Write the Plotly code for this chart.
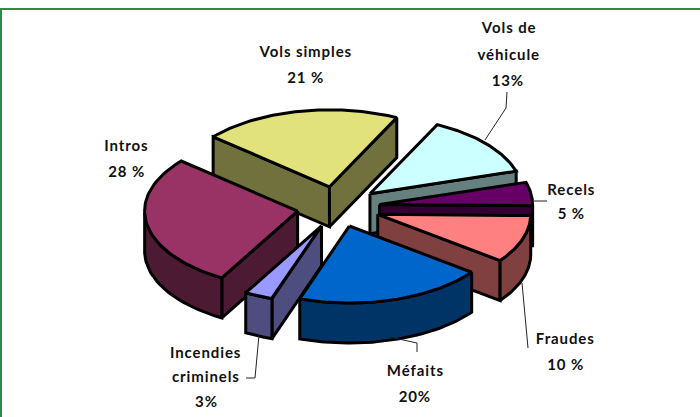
import math
import plotly.graph_objects as go

# ---- data (clockwise from the left edge of "Vols simples") ----
categories = ["Vols simples", "Vols de véhicule", "Recels", "Fraudes",
              "Méfaits", "Incendies criminels", "Intros"]
percent = [21, 13, 5, 10, 20, 3, 28]
pct_text = ["21 %", "13%", "5 %", "10 %", "20%", "3%", "28 %"]
label_lines = [["Vols simples"], ["Vols de", "véhicule"], ["Recels"], ["Fraudes"],
               ["Méfaits"], ["Incendies", "criminels"], ["Intros"]]

# ---- style / layout ----
top_colors = ["#E1E27B", "#CCFFFF", "#660066", "#FF8080", "#0066CC", "#9999FF", "#993366"]
side_colors = ["#71713D", "#668080", "#330033", "#804040", "#003366", "#4D4D80", "#4D1A33"]
pull = [42, 42, 42, 42, 38.5, 40, 41]
CX, CY = 338, 207.5
RX, RY = 153, 77
DEPTH = 40
START = -49.5
draw_order = [0, 1, 6, 2, 3, 5, 4]
label_x = [305, 508, 571, 565, 415, 206, 126]
label_y = [[51, 77], [27, 54, 80], [189, 213], [338, 364], [370, 396], [352, 376, 401], [145, 171]]
leaders = [
    ([507, 506, 485], [92, 108, 140]),
    ([534, 547], [201, 201]),
    ([522, 528], [283, 348]),
    ([390, 417, 417], [337, 343, 352]),
    ([259, 255, 246], [335, 378, 378]),
]
FRAME = "#2E8B46"
FONT = dict(family="Lato, Noto Sans, sans-serif", size=15, weight="bold", color="#111111")

fig = go.Figure()


def poly(xs, ys, color):
    fig.add_trace(go.Scatter(x=xs, y=ys, mode="lines", fill="toself", fillcolor=color,
                             line=dict(color="black", width=3, shape="linear"),
                             hoverinfo="skip", showlegend=False))


def pt(ax, ay, deg, dz=0):
    r = math.radians(deg)
    return ax + RX * math.sin(r), ay - RY * math.cos(r) + dz


total = sum(percent)
angles = [START]
for p in percent:
    angles.append(angles[-1] + 360 * p / total)

for i in draw_order:
    t1, t2 = angles[i], angles[i + 1]
    mid = math.radians((t1 + t2) / 2)
    ax = CX + pull[i] * math.sin(mid)
    ay = CY - pull[i] * math.cos(mid) * RY / RX
    arc = [t1 + (t2 - t1) * k / 60 for k in range(61)]

    # radial faces turned toward the viewer
    for t, visible in ((t1, math.sin(math.radians(t1)) < 0), (t2, math.sin(math.radians(t2)) > 0)):
        if visible:
            ex, ey = pt(ax, ay, t)
            poly([ax, ex, ex, ax, ax], [ay, ey, ey + DEPTH, ay + DEPTH, ay], side_colors[i])

    # outer wall: the front-facing part of the arc
    front = [t for t in arc if math.cos(math.radians(t)) <= 0]
    if len(front) > 1:
        up = [pt(ax, ay, t) for t in front]
        dn = [pt(ax, ay, t, DEPTH) for t in reversed(front)]
        pts = up + dn + [up[0]]
        poly([q[0] for q in pts], [q[1] for q in pts], side_colors[i])

    # top face
    rim = [pt(ax, ay, t) for t in arc]
    poly([ax] + [q[0] for q in rim] + [ax], [ay] + [q[1] for q in rim] + [ay], top_colors[i])

for lx, ly in leaders:
    fig.add_trace(go.Scatter(x=lx, y=ly, mode="lines", line=dict(color="#222222", width=1),
                             hoverinfo="skip", showlegend=False))

for i in range(len(categories)):
    lines = label_lines[i] + [pct_text[i]]
    for txt, y in zip(lines, label_y[i]):
        fig.add_annotation(x=label_x[i], y=y, text=txt, showarrow=False, font=FONT,
                           xanchor="center", yanchor="middle")

fig.update_layout(
    width=700, height=417, margin=dict(l=0, r=0, t=0, b=0),
    paper_bgcolor="white", plot_bgcolor="white", showlegend=False,
    xaxis=dict(range=[0, 700], visible=False, fixedrange=True),
    yaxis=dict(range=[417, 0], visible=False, fixedrange=True),
    shapes=[
        dict(type="line", x0=0, x1=700, y0=9, y1=9, line=dict(color=FRAME, width=2)),
        dict(type="line", x0=1, x1=1, y0=9, y1=417, line=dict(color=FRAME, width=2)),
    ],
)
fig.write_html("out.html", config=dict(displayModeBar=False),
               post_script="document.body.style.margin='0';"
                           "document.querySelectorAll('.annotation-text').forEach("
                           "function(t){t.style.letterSpacing='0.9px';});")
